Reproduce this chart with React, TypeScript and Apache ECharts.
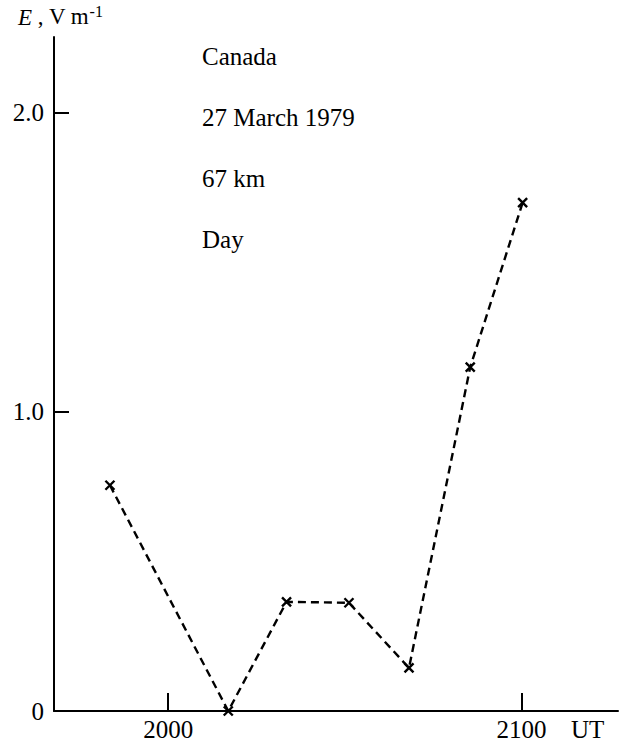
import React, { useEffect, useRef } from "react";
import * as echarts from "echarts";

// Time in minutes relative to 2000 UT
const timesMin = [-9.9, 10.2, 20.1, 30.7, 40.9, 51.3, 60.2];
const fieldValues = [0.755, 0.0, 0.365, 0.362, 0.144, 1.15, 1.7];
const xTickValues = [0, 60];
const xTickLabels = ["2000", "2100"];
const yTickValues = [1, 2];
const yLabelValues = [0, 1, 2];
const annotations = ["Canada", "27 March 1979", "67 km", "Day"];

const FONT = "Liberation Serif";

export default function App() {
  const ref = useRef<HTMLDivElement>(null);
  useEffect(() => {
    if (!ref.current) return;
    const chart = echarts.init(ref.current, undefined, { renderer: "svg" });
    const data = timesMin.map((t, i) => [t, fieldValues[i]]);
    chart.setOption({
      animation: false,
      backgroundColor: "#fff",
      grid: { left: 54, top: 37, right: 10, bottom: 35, containLabel: false },
      xAxis: {
        type: "value",
        min: -19.4,
        max: 76.4,
        splitLine: { show: false },
        axisLine: { show: true, onZero: false, lineStyle: { color: "#000", width: 2 } },
        axisTick: {
          show: true,
          inside: true,
          length: 18,
          customValues: xTickValues,
          lineStyle: { color: "#000", width: 2 },
        },
        axisLabel: {
          customValues: xTickValues,
          formatter: (v: number) => xTickLabels[xTickValues.indexOf(v)] ?? "",
          color: "#000",
          fontFamily: FONT,
          fontSize: 25,
          margin: 6,
        },
      },
      yAxis: {
        type: "value",
        min: 0,
        max: 2.254,
        splitLine: { show: false },
        axisLine: { show: true, onZero: false, lineStyle: { color: "#000", width: 2 } },
        axisTick: {
          show: true,
          inside: true,
          length: 15,
          customValues: yTickValues,
          lineStyle: { color: "#000", width: 2 },
        },
        axisLabel: {
          customValues: yLabelValues,
          formatter: (v: number) => (v === 0 ? "0" : v.toFixed(1)),
          color: "#000",
          fontFamily: FONT,
          fontSize: 25,
          margin: 10,
        },
      },
      series: [
        {
          type: "line",
          data,
          symbol: "path://M0,0L10,10M10,0L0,10",
          symbolSize: 9,
          showSymbol: true,
          itemStyle: { color: "#000", borderColor: "#000", borderWidth: 2.4 },
          lineStyle: { color: "#000", width: 2.4, type: [8, 5] },
          z: 3,
        },
      ],
      graphic: [
        {
          type: "text",
          left: 18,
          top: 3,
          style: {
            text: "{i|E} , V m{s|-1}",
            rich: {
              i: { fontFamily: FONT, fontStyle: "italic", fontSize: 23, fill: "#000", verticalAlign: "bottom" },
              s: { fontFamily: FONT, fontSize: 16, fill: "#000", verticalAlign: "top", padding: [0, 0, 10, 0] },
            },
            fontFamily: FONT,
            fontSize: 23,
            fill: "#000",
          },
        },
        ...annotations.map((t, i) => ({
          type: "text",
          left: 202,
          top: 44 + i * 61,
          style: { text: t, fontFamily: FONT, fontSize: 25, fill: "#000" },
        })),
        {
          type: "text",
          left: 571,
          top: 717,
          style: { text: "UT", fontFamily: FONT, fontSize: 25, fill: "#000" },
        },
      ],
    });
    return () => chart.dispose();
  }, []);
  return (
    <div
      ref={ref}
      style={{ position: "fixed", left: 0, top: 0, width: 628, height: 746, background: "#fff" }}
    />
  );
}
